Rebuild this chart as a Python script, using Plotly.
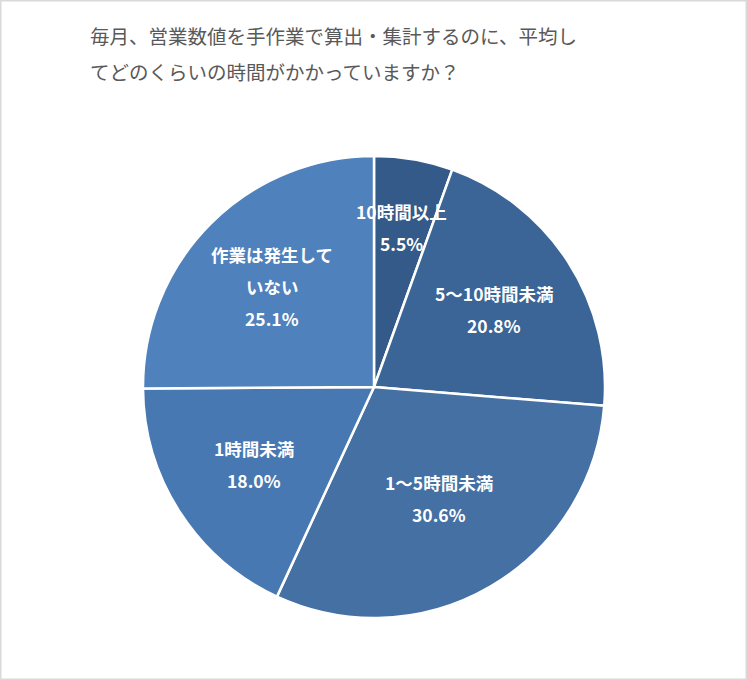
import math
import plotly.graph_objects as go

# Survey answers, clockwise from 12 o'clock
labels = ["10時間以上", "5〜10時間未満", "1〜5時間未満", "1時間未満", "作業は発生して<br>いない"]
shares = [5.5, 20.8, 30.6, 18.0, 25.1]
colors = ["#335a88", "#3b6497", "#4470a3", "#4878b2", "#4f81bd"]
# how far out (fraction of radius) each label sits, like Excel places them
label_r = [0.70, 0.62, 0.56, 0.62, 0.62]

W, H = 747, 680
cx, cy, R = 374, 293, 231  # pie centre (px from left / bottom) and radius

fig = go.Figure()

fig.add_trace(go.Pie(
    labels=labels,
    values=shares,
    sort=False,
    direction="clockwise",
    rotation=0,
    marker=dict(colors=colors, line=dict(color="white", width=2.5)),
    textinfo="none",
    hovertemplate="%{label}: %{value}%<extra></extra>",
    domain=dict(x=[(cx - R) / W, (cx + R) / W], y=[(cy - R) / H, (cy + R) / H]),
    showlegend=False,
))

# data labels: name + percentage, placed at each slice's mid angle
label_font = dict(family="Noto Sans CJK JP", size=17.5, color="white")
total = sum(shares)
acc = 0
for name, val, rf in zip(labels, shares, label_r):
    mid = (acc + val / 2) / total * 2 * math.pi
    acc += val
    px = cx + rf * R * math.sin(mid)
    py = cy + rf * R * math.cos(mid)
    lines = name.split("<br>") + [f"{val:.1f}%"]
    n = len(lines)
    for i, line in enumerate(lines):
        fig.add_annotation(
            x=px / W, y=py / H, xref="paper", yref="paper",
            text="<b>" + line + "</b>", showarrow=False,
            font=label_font, xanchor="center", yanchor="middle",
            yshift=((n - 1) / 2 - i) * 32,
        )

# title, two lines
title_lines = ["毎月、営業数値を手作業で算出・集計するのに、平均し", "てどのくらいの時間がかかっていますか？"]
for i, t in enumerate(title_lines):
    fig.add_annotation(
        x=88 / W, y=1 - (35 + i * 37) / H, xref="paper", yref="paper",
        text=t, showarrow=False, xanchor="left", yanchor="middle",
        font=dict(family="Noto Sans CJK JP", size=19.5, color="#595959"),
    )

# thin grey frame around the chart area
fig.add_shape(type="rect", xref="paper", yref="paper", x0=0, y0=0, x1=1, y1=1,
              line=dict(color="#d9d9d9", width=3))

fig.update_layout(
    width=W,
    height=H,
    margin=dict(l=0, r=0, t=0, b=0),
    paper_bgcolor="white",
    plot_bgcolor="white",
)

# drop the default page margin so the chart sits flush in the window
fig.write_html(
    "out.html",
    config={"displayModeBar": False},
    post_script="document.body.style.margin='0';document.body.style.overflow='hidden';",
)
